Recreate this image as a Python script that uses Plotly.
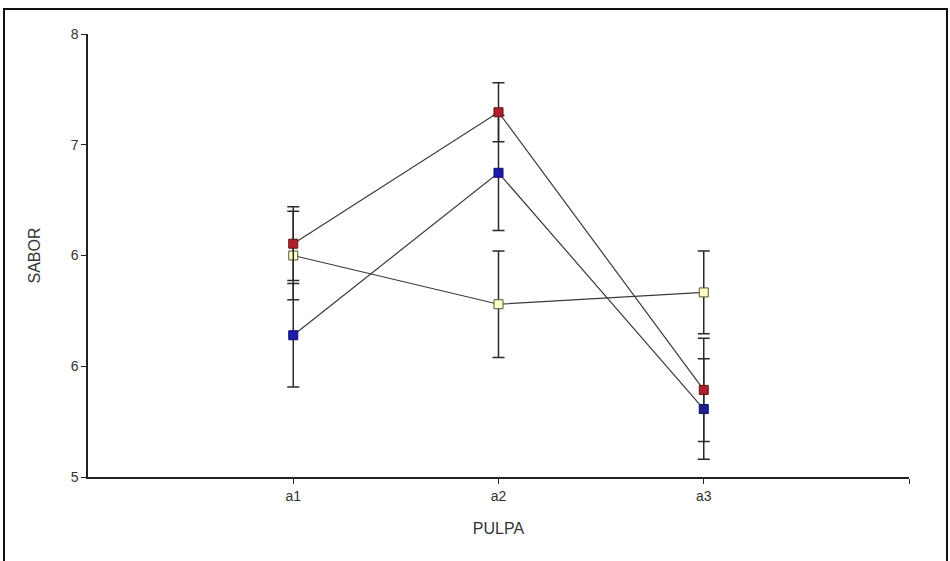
import plotly.graph_objects as go

categories = ["a1", "a2", "a3"]
red_vals = [6.58, 7.47, 5.59]
red_err = [0.25, 0.20, 0.35]
yellow_vals = [6.50, 6.17, 6.25]
yellow_err = [0.30, 0.36, 0.28]
blue_vals = [5.96, 7.06, 5.46]
blue_err = [0.35, 0.39, 0.34]

y_tickvals = [5, 5.75, 6.5, 7.25, 8]
y_ticktext = ["5", "6", "6", "7", "8"]

xpos = [i + 1 for i in range(len(categories))]

series = [
    (blue_vals, blue_err, "#1c1ca8", "#0a0a70"),
    (yellow_vals, yellow_err, "#ffffc8", "#555530"),
    (red_vals, red_err, "#b0202a", "#5a1410"),
]

fig = go.Figure()
for vals, err, fill, edge in series:
    fig.add_trace(go.Scatter(
        x=xpos, y=vals, mode="lines+markers",
        line=dict(color="#3a3a3a", width=1.2),
        marker=dict(symbol="square", size=9, color=fill,
                    line=dict(color=edge, width=1)),
        error_y=dict(type="data", array=err, visible=True,
                     color="#2a2a2a", thickness=1.5, width=6),
        showlegend=False, cliponaxis=False,
    ))

font_family = "Liberation Sans, Arial, sans-serif"
fig.update_layout(
    width=950, height=561,
    margin=dict(l=88, r=41, t=34, b=84),
    paper_bgcolor="white", plot_bgcolor="white",
    font=dict(family=font_family, color="#333333", size=14),
    xaxis=dict(
        range=[0, 4], tickvals=xpos + [4], ticktext=categories + [""],
        showgrid=False, zeroline=False, showline=True,
        linecolor="#222222", linewidth=1.5,
        ticks="outside", ticklen=5, tickcolor="#222222",
        title=dict(text="PULPA", font=dict(size=16), standoff=20),
    ),
    yaxis=dict(
        range=[5, 8], tickvals=y_tickvals, ticktext=y_ticktext,
        showgrid=False, zeroline=False, showline=True,
        linecolor="#222222", linewidth=1.5,
        ticks="outside", ticklen=5, tickcolor="#222222",
        title=dict(text="SABOR", font=dict(size=16), standoff=26),
    ),
    shapes=[dict(
        type="rect", xref="paper", yref="paper",
        x0=-0.1023, x1=1.0463, y0=-0.25, y1=1.0564,
        line=dict(color="#111111", width=2), layer="below",
    )],
)

fig.write_html("out.html")
